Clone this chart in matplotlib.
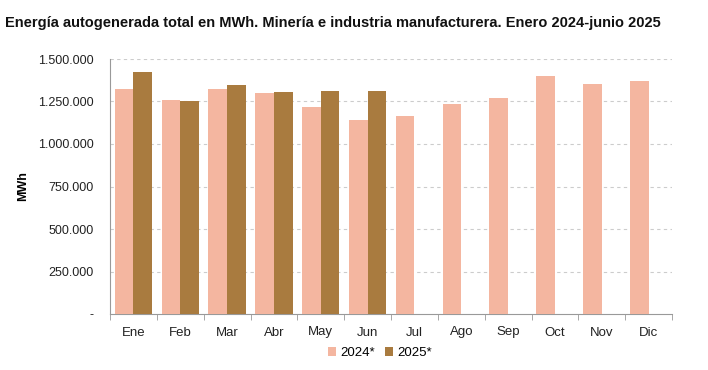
import numpy as np
import matplotlib
matplotlib.use("Agg")
import matplotlib.pyplot as plt
from matplotlib import font_manager
from matplotlib.ticker import FuncFormatter

names = {f.name for f in font_manager.fontManager.ttflist}
narrow = "Liberation Sans Narrow" if "Liberation Sans Narrow" in names else "Liberation Sans"
plt.rcParams["font.family"] = [narrow, "DejaVu Sans"]

meses = ["Ene", "Feb", "Mar", "Abr", "May", "Jun", "Jul", "Ago", "Sep", "Oct", "Nov", "Dic"]
v2024 = [1321000, 1258000, 1321000, 1300000, 1219000, 1143000,
         1165000, 1235000, 1268000, 1400000, 1351000, 1370000]
v2025 = [1421000, 1251000, 1347000, 1306000, 1312000, 1313000]
series = ["2024*", "2025*"]
c2024 = "#F4B6A0"
c2025 = "#A97B3F"

fig = plt.figure(figsize=(7.08, 3.70), dpi=100)
ax = fig.add_axes([110/708, 1 - 314/370, 562/708, 255/370])

x = np.arange(len(meses))
w = 0.4
ax.bar(x - w/2, v2024, w, color=c2024, label=series[0], zorder=3)
ax.bar(np.arange(len(v2025)) + w/2, v2025, w, color=c2025, label=series[1], zorder=3)

ax.set_xlim(-0.5, len(meses) - 0.5)
ax.set_ylim(0, 1500000)
ax.set_yticks(np.arange(0, 1500001, 250000))

def fmt(v, pos):
    if v == 0:
        return "-"
    return f"{int(v):,}".replace(",", ".")

ax.yaxis.set_major_formatter(FuncFormatter(fmt))
ax.set_xticks(x)
ax.set_xticklabels(meses)
ax.set_xticks(np.arange(-0.5, len(meses)), minor=True)
ax.tick_params(axis="x", which="major", length=0, pad=9, labelsize=9.5, colors="#222222")
ax.tick_params(axis="x", which="minor", length=4, color="#999999", direction="out")
ax.tick_params(axis="y", length=0, pad=12, labelsize=9, colors="#222222")

for v in np.arange(250000, 1500001, 250000):
    ax.axhline(v, color="#cccccc", lw=0.8, ls=(0, (3, 3)), zorder=1)

for s in ["top", "right"]:
    ax.spines[s].set_visible(False)
ax.spines["left"].set_color("#999999")
ax.spines["bottom"].set_color("#999999")

ax.set_ylabel("MWh", fontsize=9, fontweight="bold", labelpad=6)

fig.text(5/708, 1 - 27/370, "Energía autogenerada total en MWh. Minería e industria manufacturera. Enero 2024-junio 2025",
         fontsize=10.5, fontweight="bold", color="#111111")

fig.legend(loc="center", bbox_to_anchor=(380/708, 1 - 353/370), ncol=2, frameon=False,
           fontsize=9.5, handlelength=0.6, handleheight=0.6, handletextpad=0.3, columnspacing=0.8)

fig.savefig("out.png", dpi=100)
